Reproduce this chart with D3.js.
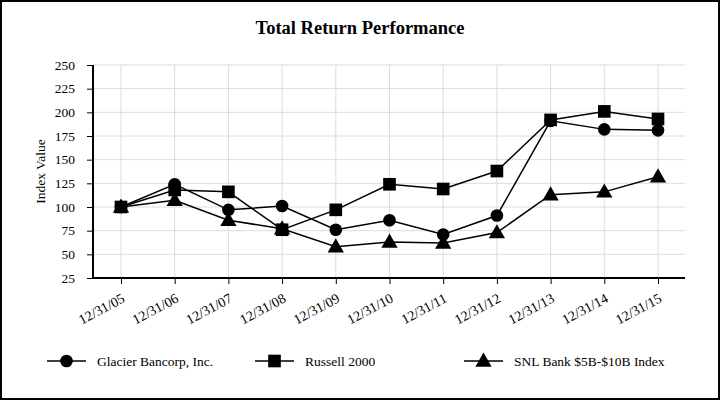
<!DOCTYPE html>
<html><head><meta charset="utf-8">
<script src="https://cdn.jsdelivr.net/npm/d3@7"></script>
<style>body{margin:0;background:#fff}svg{display:block}text{font-family:"Liberation Serif","Times New Roman",serif}</style>
</head><body><div id="chart"></div>
<script>
const categories = ["12/31/05","12/31/06","12/31/07","12/31/08","12/31/09","12/31/10","12/31/11","12/31/12","12/31/13","12/31/14","12/31/15"];
const glacier = [100,124,97,101,76,86,71,91,191,182,181];
const russell = [100,118,116,76,97,124,119,138,192,201,193];
const snl = [100,107,86,77,58,63,62,73,113,116,132];
const yTicks = [25,50,75,100,125,150,175,200,225,250];
const seriesNames = ["Glacier Bancorp, Inc.","Russell 2000","SNL Bank $5B-$10B Index"];
const seriesSymbols = ["circle","square","triangle"];

(function(){
const W = 720, H = 400;
const svg = d3.select("#chart").append("svg").attr("width", W).attr("height", H);
svg.append("rect").attr("x",1).attr("y",1).attr("width",W-2).attr("height",H-2).attr("fill","#fff").attr("stroke","#000").attr("stroke-width",2);

const pLeft = 93, pRight = 685, pTop = 65, pBottom = 278;
const x = d3.scalePoint().domain(categories).range([121, 658]);
const y = d3.scaleLinear().domain([25,250]).range([pBottom, pTop]);

svg.append("text").attr("x",360).attr("y",34).attr("text-anchor","middle")
  .attr("font-size",18.5).attr("font-weight","bold").text("Total Return Performance");

const g = svg.append("g");
g.selectAll(".hg").data(yTicks).enter().append("line")
  .attr("x1",pLeft).attr("x2",pRight).attr("y1",d=>y(d)).attr("y2",d=>y(d))
  .attr("stroke","#dcdcdc").attr("stroke-width",1);
g.selectAll(".vg").data(categories).enter().append("line")
  .attr("x1",d=>x(d)).attr("x2",d=>x(d)).attr("y1",pTop).attr("y2",pBottom)
  .attr("stroke","#dcdcdc").attr("stroke-width",1);

const yAxis = svg.append("g").attr("transform",`translate(${pLeft},0)`)
  .call(d3.axisLeft(y).tickValues(yTicks).tickSize(6).tickPadding(12));
yAxis.select(".domain").attr("stroke","#000").attr("stroke-width",2).attr("d",`M0,${pTop}V${pBottom}`);
yAxis.selectAll("text").attr("font-size",13.5).attr("font-family","Liberation Serif").attr("fill","#000");

const xAxis = svg.append("g").attr("transform",`translate(0,${pBottom})`)
  .call(d3.axisBottom(x).tickSize(6).tickPadding(4));
xAxis.select(".domain").attr("stroke","#000").attr("stroke-width",2).attr("d",`M${pLeft},0H${pRight}`);
xAxis.selectAll("text").attr("font-size",14).attr("font-family","Liberation Serif").attr("fill","#000")
  .attr("text-anchor","end").attr("x",0).attr("y",0).attr("dy","0.35em")
  .attr("transform","translate(2,19) rotate(-28)");

svg.append("text").attr("transform",`translate(40,${(pTop+pBottom)/2}) rotate(-90)`)
  .attr("text-anchor","middle").attr("dy","0.35em").attr("font-size",13.5).text("Index Value");

const symbolFor = {circle: d3.symbolCircle, square: d3.symbolSquare, triangle: d3.symbolTriangle};
const sizeFor = {circle: 125, square: 160, triangle: 115};
const line = d3.line().x((d,i)=>x(categories[i])).y(d=>y(d));
const all = [glacier, russell, snl];
all.forEach(s => {
  svg.append("path").attr("d", line(s)).attr("fill","none").attr("stroke","#000").attr("stroke-width",1.5);
});
[snl, glacier, russell].forEach(s => {
  const k = all.indexOf(s);
  const sym = seriesSymbols[k];
  svg.selectAll(null).data(s).enter().append("path")
    .attr("transform",(d,i)=>`translate(${x(categories[i])},${y(d) + (sym==="triangle"?1:0)})`)
    .attr("d", d3.symbol().type(symbolFor[sym]).size(sizeFor[sym])).attr("fill","#000");
});

const legendX = [47, 255, 464];
seriesNames.forEach((n,k) => {
  const lg = svg.append("g").attr("transform",`translate(${legendX[k]},361)`);
  lg.append("line").attr("x1",0).attr("x2",39).attr("y1",0).attr("y2",0).attr("stroke","#000").attr("stroke-width",1.5);
  const sym = seriesSymbols[k];
  lg.append("path").attr("transform",`translate(19.5,${sym==="triangle"?1:0})`)
    .attr("d", d3.symbol().type(symbolFor[sym]).size(sizeFor[sym])).attr("fill","#000");
  lg.append("text").attr("x",50).attr("y",5).attr("font-size",13.5).text(n);
});
})();
</script></body></html>
